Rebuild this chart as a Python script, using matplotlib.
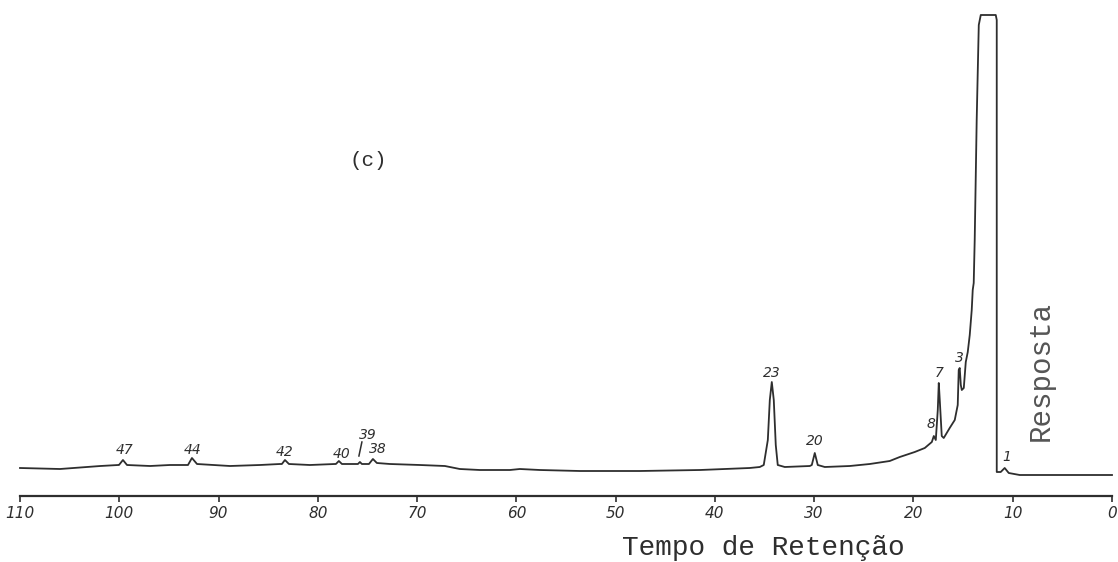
import numpy as np
import matplotlib.pyplot as plt

# retention time (min) and detector response (arbitrary units)
tempo = [110, 105.97, 101.9, 100.1, 100.03, 99.63, 99.22, 96.9, 94.9,
         93.08, 92.68, 92.17, 88.85, 85.83, 83.82, 83.62, 83.31, 82.91,
         80.8, 78.28, 78.18, 77.88, 77.57, 76.26, 75.96, 75.76, 75.56,
         74.85, 74.45, 74.05, 72.74, 69.72, 67.2, 65.7, 63.68, 60.65,
         59.65, 57.63, 53.6, 47.56, 41.5, 36.5, 35.48,
         35.08, 34.67, 34.47, 34.27, 34.07, 33.87, 33.67,
         32.96, 30.44, 30.24, 29.94, 29.64, 28.93, 26.41, 24.4, 22.39,
         21.38, 19.87, 18.86, 18.15, 17.95, 17.75, 17.55, 17.45, 17.35,
         17.15, 16.95, 16.35, 15.84, 15.54, 15.44, 15.34, 15.23, 15.13,
         14.93, 14.73, 14.53, 14.33, 14.13, 14.03, 13.93, 13.83, 13.63,
         13.42, 13.22, 11.71, 11.61, 11.61, 11.21, 10.81, 10.4, 9.3, 0]
resposta = [28, 27, 30, 31, 31, 36, 31, 30, 31,
            31, 38, 32, 30, 31, 32, 32, 36, 32,
            31, 32, 32, 35, 32, 32, 32, 34, 32,
            32, 37, 33, 32, 31, 30, 27, 26, 26,
            27, 26, 25, 25, 26, 28, 29,
            31, 56, 96, 114, 96, 51, 31,
            29, 30, 31, 43, 31, 29, 30, 32, 35,
            39, 44, 48, 54, 60, 56, 86, 113, 96,
            60, 58, 68, 76, 91, 126, 128, 111, 106,
            108, 134, 144, 161, 186, 206, 213, 256, 376,
            471, 481, 481, 476, 24, 24, 28, 23, 21, 21]

# peak numbers and where they are written
picos = ['47', '44', '42', '40', '39', '38', '23', '20', '8', '7', '3', '1']
picos_t = [99.5, 92.6, 83.3, 77.6, 75.0, 74.0, 34.3, 29.9, 18.2, 17.4, 15.4, 10.6]
picos_r = [46, 46, 44, 42, 61, 47, 123, 55, 72, 123, 138, 39]

ticks = list(range(0, 111, 10))

cor = '#2e2e2e'
fig = plt.figure(figsize=(11.18, 5.62), dpi=100)
ax = fig.add_axes([20 / 1118, 66 / 562, 1092 / 1118, 486 / 562])

ax.plot(tempo, resposta, color=cor, lw=1.3, clip_on=False)

for lab, t, r in zip(picos, picos_t, picos_r):
    ax.text(t, r, lab, fontsize=10, style='italic', color=cor,
            ha='center', va='center')
# little stroke pointing from "39" down to its peak
ax.plot([75.86, 75.56], [40, 54], color=cor, lw=1.1)

ax.set_xlim(110, 0)
ax.set_ylim(0, 486)
ax.set_xticks(ticks)
ax.set_xticklabels([str(v) for v in ticks], style='italic', fontsize=11,
                   color=cor)
ax.tick_params(axis='x', direction='out', length=4, width=1.2, colors=cor,
               pad=3)
ax.set_yticks([])
for s in ['top', 'left', 'right']:
    ax.spines[s].set_visible(False)
ax.spines['bottom'].set_color(cor)
ax.spines['bottom'].set_linewidth(1.6)
ax.patch.set_alpha(0)

fig.text(368 / 1118, 1 - 160 / 562, '(c)', fontsize=15,
         family='Liberation Mono', color=cor, ha='center', va='center')
fig.text(763 / 1118, 1 - 548 / 562, 'Tempo de Retenção', fontsize=20,
         family='Liberation Mono', color=cor, ha='center', va='center')
fig.text(1041 / 1118, 1 - 371 / 562, 'Resposta', fontsize=21,
         family='Liberation Mono', color='#555555', ha='center',
         va='center', rotation=90)

fig.savefig('out.png', dpi=100)
